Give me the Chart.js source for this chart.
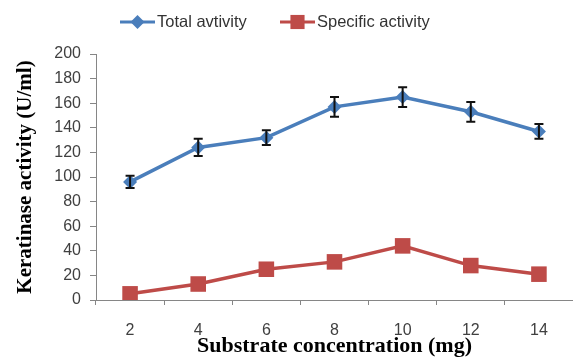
<!DOCTYPE html>
<html>
<head>
<meta charset="utf-8">
<script src="https://cdn.jsdelivr.net/npm/chart.js@4/dist/chart.umd.min.js"></script>
<style>
  html, body { margin: 0; padding: 0; background: #fff; overflow: hidden; }
  #wrap { width: 573px; height: 360px; position: relative; }
  canvas { display: block; }
</style>
</head>
<body>
<div id="wrap"><canvas id="c"></canvas></div>
<script>
// Substrate amounts (mg)
const categories = ['2', '4', '6', '8', '10', '12', '14'];
// Keratinase activity (U/ml)
const totalActivity = [96, 124, 132, 157, 165, 153, 137];
const totalError = [5, 7, 6, 8, 8, 8, 6];
const specificActivity = [5, 13, 25, 31, 44, 28, 21];
const yTicks = [0, 20, 40, 60, 80, 100, 120, 140, 160, 180, 200];

const BLUE = '#4a7ebb';
const RED = '#be4b48';
const TICK_FONT = { family: 'Liberation Sans Narrow, Liberation Sans, sans-serif', size: 16 };

// Error bars for the total activity series
const errorBars = {
  id: 'errorBars',
  afterDatasetsDraw(chart) {
    const meta = chart.getDatasetMeta(0);
    const y = chart.scales.y;
    const ctx = chart.ctx;
    ctx.save();
    ctx.strokeStyle = '#111';
    ctx.lineWidth = 2;
    meta.data.forEach((pt, i) => {
      const v = totalActivity[i], e = totalError[i];
      const top = y.getPixelForValue(v + e);
      const bot = y.getPixelForValue(v - e);
      ctx.beginPath();
      ctx.moveTo(pt.x, top); ctx.lineTo(pt.x, bot);
      ctx.moveTo(pt.x - 4.5, top); ctx.lineTo(pt.x + 4.5, top);
      ctx.moveTo(pt.x - 4.5, bot); ctx.lineTo(pt.x + 4.5, bot);
      ctx.stroke();
    });
    ctx.restore();
  }
};

// Legend with line + marker samples
const lineLegend = {
  id: 'lineLegend',
  afterDraw(chart) {
    const ctx = chart.ctx;
    const items = [
      { x: 120, color: BLUE, style: 'rectRot', r: 7, text: 'Total avtivity' },
      { x: 280, color: RED, style: 'rect', r: 10, text: 'Specific activity' }
    ];
    const yy = 22;
    ctx.save();
    items.forEach(it => {
      ctx.strokeStyle = it.color;
      ctx.lineWidth = 3;
      ctx.beginPath();
      ctx.moveTo(it.x, yy); ctx.lineTo(it.x + 35, yy);
      ctx.stroke();
      ctx.fillStyle = it.color;
      Chart.helpers.drawPoint(ctx, { pointStyle: it.style, radius: it.r, borderWidth: 0 }, it.x + 17.5, yy);
      ctx.fillStyle = '#333';
      ctx.font = '16.5px ' + TICK_FONT.family;
      ctx.textBaseline = 'middle';
      ctx.textAlign = 'left';
      ctx.fillText(it.text, it.x + 37, yy);
    });
    ctx.restore();
  }
};

new Chart(document.getElementById('c'), {
  type: 'line',
  data: {
    labels: categories,
    datasets: [
      {
        label: 'Total avtivity',
        data: totalActivity,
        borderColor: BLUE,
        backgroundColor: BLUE,
        borderWidth: 3.5,
        pointStyle: 'rectRot',
        pointRadius: 7,
        pointBorderWidth: 0,
        tension: 0
      },
      {
        label: 'Specific activity',
        data: specificActivity,
        borderColor: RED,
        backgroundColor: RED,
        borderWidth: 3.5,
        pointStyle: 'rect',
        pointRadius: 11,
        pointBorderWidth: 0,
        tension: 0
      }
    ]
  },
  options: {
    responsive: true,
    maintainAspectRatio: false,
    animation: false,
    layout: { autoPadding: false, padding: { top: 54, right: 0, left: 0, bottom: 0 } },
    plugins: { legend: { display: false }, tooltip: { enabled: false } },
    scales: {
      x: {
        offset: true,
        grid: { offset: true, drawOnChartArea: false, drawTicks: true, tickLength: 5, color: '#868686' },
        border: { color: '#868686', width: 1 },
        ticks: { color: '#404040', font: TICK_FONT, padding: 16, maxRotation: 0 },
        title: {
          display: true,
          text: 'Substrate concentration (mg)',
          color: '#000',
          font: { family: 'Liberation Serif, serif', size: 22, weight: 'bold' },
          padding: { top: 0, bottom: 0 }
        },
        afterFit(scale) { scale.height = 60; }
      },
      y: {
        min: 0,
        max: 200,
        afterBuildTicks(scale) { scale.ticks = yTicks.map(v => ({ value: v })); },
        grid: { drawOnChartArea: false, drawTicks: true, tickLength: 6, color: '#868686' },
        border: { color: '#868686', width: 1 },
        ticks: { color: '#404040', font: TICK_FONT, padding: 9 },
        title: {
          display: true,
          text: 'Keratinase activity (U/ml)',
          color: '#000',
          font: { family: 'Liberation Serif, serif', size: 21, weight: 'bold' },
          padding: { top: 13, bottom: 0 }
        },
        afterFit(scale) { scale.width = 96; }
      }
    }
  },
  plugins: [errorBars, lineLegend]
});
</script>
</body>
</html>
